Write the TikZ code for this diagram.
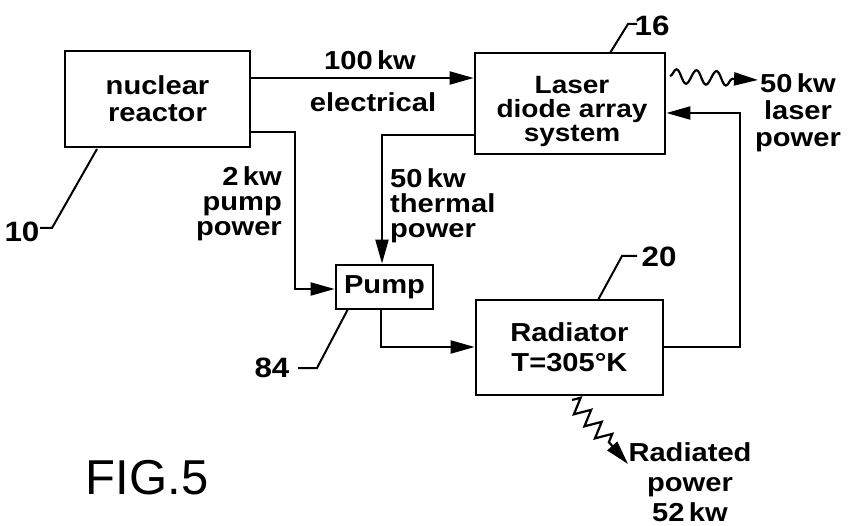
\documentclass[tikz,border=0pt]{standalone}
\usepackage{fontspec}
\setmainfont{Liberation Sans}[FakeStretch=1.12]
\newfontfamily\figfont{Liberation Sans}
\usetikzlibrary{arrows.meta,decorations.pathmorphing}
\begin{document}
\begin{tikzpicture}[x=1pt,y=-1pt,
 box/.style={draw,line width=2.8pt,rectangle,inner sep=0pt},
 conn/.style={line width=2.2pt},
 tip/.style={-{Triangle[length=24pt,width=13pt]}},
 arr/.style={conn,tip},
 txt/.style={font=\bfseries\fontsize{26}{25}\selectfont,inner sep=0pt,align=center},
 num/.style={font=\bfseries\fontsize{28}{28}\selectfont,inner sep=0pt},
 lead/.style={line width=2pt}]
\useasboundingbox (0,0) rectangle (848,526);

% boxes
\node[box,txt,minimum width=185pt,minimum height=96pt,font=\bfseries\fontsize{26}{27}\selectfont] (reactor) at (157.5,99) {nuclear\\reactor};
\node[box,minimum width=190pt,minimum height=101pt] (laser) at (570,103.5) {};
\node[txt,font=\bfseries\fontsize{25}{24}\selectfont] (laserT) at (572,111) {Laser\\diode array\\system};
\node[box,txt,minimum width=97pt,minimum height=44pt] (pump) at (384.5,287) {Pump};
\node[box,txt,minimum width=187pt,minimum height=95pt,font=\bfseries\fontsize{26}{30}\selectfont] (rad) at (569.5,347.5) {Radiator\\T=305°K};

% connectors
\draw[arr] (reactor.east |- 0,78) -- (laser.west |- 0,78);
\node[txt] (l100) at (370,60) {100\,kw};
\node[txt] (lelec) at (373,102) {electrical};

\coordinate (pp1) at (295,132);
\coordinate (pp2) at (295,289);
\draw[arr] (reactor.east |- pp1) -- (pp1) -- (pp2) -- (pump.west |- pp2);
\node[txt,align=right,anchor=east] (l2kw) at (282,204) {2\,kw\\pump\\power};

\coordinate (th1) at (382,135);
\draw[arr] (laser.west |- th1) -- (th1) -- (th1 |- pump.north);
\node[txt,align=left,anchor=west] (l50th) at (390,206) {50\,kw\\thermal\\power};

\coordinate (po1) at (381,347);
\draw[arr] (po1 |- pump.south) -- (po1) -- (rad.west |- po1);

\coordinate (rl1) at (740,347);
\coordinate (rl2) at (740,113);
\draw[arr] (rad.east |- rl1) -- (rl1) -- (rl2) -- (laser.east |- rl2);

% laser power wave
\coordinate (lw1) at (670,76);
\coordinate (lw2) at (758,80);
\draw[conn,tip,decorate,decoration={snake,amplitude=7pt,segment length=20pt,post length=24pt}] (lw1) -- (lw2);
\node[txt,font=\bfseries\fontsize{26}{27}\selectfont] (llaser) at (798,113) {50\,kw\\laser\\power};

% radiated power wave
\coordinate (rw1) at (572,400);
\coordinate (rw2) at (628,464);
\draw[conn,tip,decorate,decoration={zigzag,amplitude=8pt,segment length=16pt,post length=26pt}] (rw1) -- (rw2);
\node[txt,font=\bfseries\fontsize{26}{30}\selectfont] (lrad) at (690,482) {Radiated\\power\\52\,kw};

% reference numerals
\node[num] (n16) at (652,26) {16};
\coordinate (c16a) at (628,24);
\coordinate (c16b) at (637,24);
\draw[lead] (610,53) -- (c16a) -- (c16b);

\node[num] (n20) at (659,257) {20};
\coordinate (c20a) at (622,256);
\coordinate (c20b) at (637,256);
\draw[lead] (598,300) -- (c20a) -- (c20b);

\node[num] (n10) at (22,232) {10};
\coordinate (c10a) at (40,228);
\coordinate (c10b) at (52,228);
\draw[lead] (c10a) -- (c10b) -- (97,149);

\node[num] (n84) at (272,368) {84};
\coordinate (c84a) at (298,368);
\coordinate (c84b) at (317,368);
\draw[lead] (c84a) -- (c84b) -- (348,309);

\node[inner sep=0pt,font=\figfont\fontsize{49}{49}\selectfont] (fig) at (147,478) {FIG.5};
\end{tikzpicture}
\end{document}
